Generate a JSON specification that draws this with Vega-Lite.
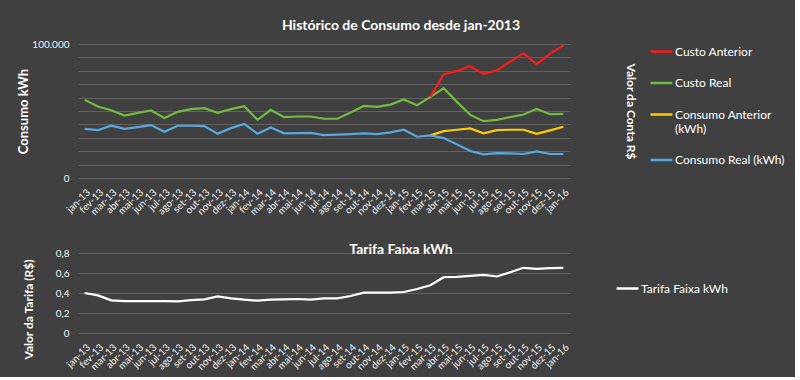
{
  "$schema": "https://vega.github.io/schema/vega-lite/v6.json",
  "background": "#404040",
  "padding": {"left": 17, "top": 19, "right": 10, "bottom": 5},
  "spacing": 26,
  "config": {
    "font": "Lato",
    "view": {"stroke": null},
    "title": {"color": "#ffffff", "font": "Lato", "fontWeight": "bold", "fontSize": 14},
    "axis": {
      "labelColor": "#f2f2f2",
      "labelFont": "Lato",
      "titleColor": "#ffffff",
      "titleFont": "Lato",
      "titleFontWeight": "bold",
      "gridColor": "#626262",
      "gridWidth": 1,
      "gridOpacity": 1,
      "domain": false,
      "ticks": false
    },
    "legend": {
      "labelColor": "#ffffff",
      "labelFont": "Lato",
      "labelFontSize": 12,
      "symbolType": "stroke",
      "symbolStrokeWidth": 2.5,
      "symbolSize": 480,
      "labelOffset": 1,
      "padding": 0
    }
  },
  "datasets": {
    "consumo": [
      {"mes": "jan-13", "serie": "Custo Real", "valor": 58300},
      {"mes": "fev-13", "serie": "Custo Real", "valor": 53300},
      {"mes": "mar-13", "serie": "Custo Real", "valor": 50600},
      {"mes": "abr-13", "serie": "Custo Real", "valor": 46600},
      {"mes": "mai-13", "serie": "Custo Real", "valor": 48600},
      {"mes": "jun-13", "serie": "Custo Real", "valor": 50400},
      {"mes": "jul-13", "serie": "Custo Real", "valor": 44700},
      {"mes": "ago-13", "serie": "Custo Real", "valor": 49400},
      {"mes": "set-13", "serie": "Custo Real", "valor": 51400},
      {"mes": "out-13", "serie": "Custo Real", "valor": 52100},
      {"mes": "nov-13", "serie": "Custo Real", "valor": 48600},
      {"mes": "dez-13", "serie": "Custo Real", "valor": 51400},
      {"mes": "jan-14", "serie": "Custo Real", "valor": 53600},
      {"mes": "fev-14", "serie": "Custo Real", "valor": 43400},
      {"mes": "mar-14", "serie": "Custo Real", "valor": 50900},
      {"mes": "abr-14", "serie": "Custo Real", "valor": 45400},
      {"mes": "mai-14", "serie": "Custo Real", "valor": 45900},
      {"mes": "jun-14", "serie": "Custo Real", "valor": 45900},
      {"mes": "jul-14", "serie": "Custo Real", "valor": 44200},
      {"mes": "ago-14", "serie": "Custo Real", "valor": 44200},
      {"mes": "set-14", "serie": "Custo Real", "valor": 48900},
      {"mes": "out-14", "serie": "Custo Real", "valor": 53800},
      {"mes": "nov-14", "serie": "Custo Real", "valor": 53100},
      {"mes": "dez-14", "serie": "Custo Real", "valor": 54800},
      {"mes": "jan-15", "serie": "Custo Real", "valor": 58600},
      {"mes": "fev-15", "serie": "Custo Real", "valor": 54300},
      {"mes": "mar-15", "serie": "Custo Real", "valor": 60500},
      {"mes": "abr-15", "serie": "Custo Real", "valor": 67000},
      {"mes": "mai-15", "serie": "Custo Real", "valor": 56800},
      {"mes": "jun-15", "serie": "Custo Real", "valor": 47100},
      {"mes": "jul-15", "serie": "Custo Real", "valor": 42400},
      {"mes": "ago-15", "serie": "Custo Real", "valor": 43400},
      {"mes": "set-15", "serie": "Custo Real", "valor": 45400},
      {"mes": "out-15", "serie": "Custo Real", "valor": 47400},
      {"mes": "nov-15", "serie": "Custo Real", "valor": 51600},
      {"mes": "dez-15", "serie": "Custo Real", "valor": 47600},
      {"mes": "jan-16", "serie": "Custo Real", "valor": 47900},
      {"mes": "mar-15", "serie": "Custo Anterior", "valor": 60500},
      {"mes": "abr-15", "serie": "Custo Anterior", "valor": 77200},
      {"mes": "mai-15", "serie": "Custo Anterior", "valor": 79900},
      {"mes": "jun-15", "serie": "Custo Anterior", "valor": 83400},
      {"mes": "jul-15", "serie": "Custo Anterior", "valor": 77700},
      {"mes": "ago-15", "serie": "Custo Anterior", "valor": 80400},
      {"mes": "set-15", "serie": "Custo Anterior", "valor": 86800},
      {"mes": "out-15", "serie": "Custo Anterior", "valor": 93100},
      {"mes": "nov-15", "serie": "Custo Anterior", "valor": 84900},
      {"mes": "dez-15", "serie": "Custo Anterior", "valor": 92800},
      {"mes": "jan-16", "serie": "Custo Anterior", "valor": 98800},
      {"mes": "mar-15", "serie": "Consumo Anterior (kWh)", "valor": 31800},
      {"mes": "abr-15", "serie": "Consumo Anterior (kWh)", "valor": 35000},
      {"mes": "mai-15", "serie": "Consumo Anterior (kWh)", "valor": 36000},
      {"mes": "jun-15", "serie": "Consumo Anterior (kWh)", "valor": 37000},
      {"mes": "jul-15", "serie": "Consumo Anterior (kWh)", "valor": 33300},
      {"mes": "ago-15", "serie": "Consumo Anterior (kWh)", "valor": 35700},
      {"mes": "set-15", "serie": "Consumo Anterior (kWh)", "valor": 36000},
      {"mes": "out-15", "serie": "Consumo Anterior (kWh)", "valor": 36000},
      {"mes": "nov-15", "serie": "Consumo Anterior (kWh)", "valor": 33000},
      {"mes": "dez-15", "serie": "Consumo Anterior (kWh)", "valor": 35500},
      {"mes": "jan-16", "serie": "Consumo Anterior (kWh)", "valor": 38200},
      {"mes": "jan-13", "serie": "Consumo Real (kWh)", "valor": 36700},
      {"mes": "fev-13", "serie": "Consumo Real (kWh)", "valor": 35700},
      {"mes": "mar-13", "serie": "Consumo Real (kWh)", "valor": 39000},
      {"mes": "abr-13", "serie": "Consumo Real (kWh)", "valor": 36700},
      {"mes": "mai-13", "serie": "Consumo Real (kWh)", "valor": 38000},
      {"mes": "jun-13", "serie": "Consumo Real (kWh)", "valor": 39500},
      {"mes": "jul-13", "serie": "Consumo Real (kWh)", "valor": 34500},
      {"mes": "ago-13", "serie": "Consumo Real (kWh)", "valor": 39000},
      {"mes": "set-13", "serie": "Consumo Real (kWh)", "valor": 39000},
      {"mes": "out-13", "serie": "Consumo Real (kWh)", "valor": 38700},
      {"mes": "nov-13", "serie": "Consumo Real (kWh)", "valor": 33000},
      {"mes": "dez-13", "serie": "Consumo Real (kWh)", "valor": 37200},
      {"mes": "jan-14", "serie": "Consumo Real (kWh)", "valor": 40400},
      {"mes": "fev-14", "serie": "Consumo Real (kWh)", "valor": 33000},
      {"mes": "mar-14", "serie": "Consumo Real (kWh)", "valor": 37700},
      {"mes": "abr-14", "serie": "Consumo Real (kWh)", "valor": 33300},
      {"mes": "mai-14", "serie": "Consumo Real (kWh)", "valor": 33500},
      {"mes": "jun-14", "serie": "Consumo Real (kWh)", "valor": 33700},
      {"mes": "jul-14", "serie": "Consumo Real (kWh)", "valor": 32000},
      {"mes": "ago-14", "serie": "Consumo Real (kWh)", "valor": 32300},
      {"mes": "set-14", "serie": "Consumo Real (kWh)", "valor": 32800},
      {"mes": "out-14", "serie": "Consumo Real (kWh)", "valor": 33300},
      {"mes": "nov-14", "serie": "Consumo Real (kWh)", "valor": 32800},
      {"mes": "dez-14", "serie": "Consumo Real (kWh)", "valor": 34000},
      {"mes": "jan-15", "serie": "Consumo Real (kWh)", "valor": 36000},
      {"mes": "fev-15", "serie": "Consumo Real (kWh)", "valor": 30800},
      {"mes": "mar-15", "serie": "Consumo Real (kWh)", "valor": 31800},
      {"mes": "abr-15", "serie": "Consumo Real (kWh)", "valor": 29800},
      {"mes": "mai-15", "serie": "Consumo Real (kWh)", "valor": 25100},
      {"mes": "jun-15", "serie": "Consumo Real (kWh)", "valor": 20100},
      {"mes": "jul-15", "serie": "Consumo Real (kWh)", "valor": 17600},
      {"mes": "ago-15", "serie": "Consumo Real (kWh)", "valor": 18600},
      {"mes": "set-15", "serie": "Consumo Real (kWh)", "valor": 18400},
      {"mes": "out-15", "serie": "Consumo Real (kWh)", "valor": 17900},
      {"mes": "nov-15", "serie": "Consumo Real (kWh)", "valor": 19900},
      {"mes": "dez-15", "serie": "Consumo Real (kWh)", "valor": 17900},
      {"mes": "jan-16", "serie": "Consumo Real (kWh)", "valor": 17900}
    ],
    "tarifa": [
      {"mes": "jan-13", "serie": "Tarifa Faixa kWh", "valor": 0.400},
      {"mes": "fev-13", "serie": "Tarifa Faixa kWh", "valor": 0.376},
      {"mes": "mar-13", "serie": "Tarifa Faixa kWh", "valor": 0.326},
      {"mes": "abr-13", "serie": "Tarifa Faixa kWh", "valor": 0.319},
      {"mes": "mai-13", "serie": "Tarifa Faixa kWh", "valor": 0.319},
      {"mes": "jun-13", "serie": "Tarifa Faixa kWh", "valor": 0.319},
      {"mes": "jul-13", "serie": "Tarifa Faixa kWh", "valor": 0.319},
      {"mes": "ago-13", "serie": "Tarifa Faixa kWh", "valor": 0.316},
      {"mes": "set-13", "serie": "Tarifa Faixa kWh", "valor": 0.329},
      {"mes": "out-13", "serie": "Tarifa Faixa kWh", "valor": 0.336},
      {"mes": "nov-13", "serie": "Tarifa Faixa kWh", "valor": 0.366},
      {"mes": "dez-13", "serie": "Tarifa Faixa kWh", "valor": 0.346},
      {"mes": "jan-14", "serie": "Tarifa Faixa kWh", "valor": 0.333},
      {"mes": "fev-14", "serie": "Tarifa Faixa kWh", "valor": 0.323},
      {"mes": "mar-14", "serie": "Tarifa Faixa kWh", "valor": 0.333},
      {"mes": "abr-14", "serie": "Tarifa Faixa kWh", "valor": 0.336},
      {"mes": "mai-14", "serie": "Tarifa Faixa kWh", "valor": 0.340},
      {"mes": "jun-14", "serie": "Tarifa Faixa kWh", "valor": 0.334},
      {"mes": "jul-14", "serie": "Tarifa Faixa kWh", "valor": 0.346},
      {"mes": "ago-14", "serie": "Tarifa Faixa kWh", "valor": 0.346},
      {"mes": "set-14", "serie": "Tarifa Faixa kWh", "valor": 0.370},
      {"mes": "out-14", "serie": "Tarifa Faixa kWh", "valor": 0.403},
      {"mes": "nov-14", "serie": "Tarifa Faixa kWh", "valor": 0.403},
      {"mes": "dez-14", "serie": "Tarifa Faixa kWh", "valor": 0.403},
      {"mes": "jan-15", "serie": "Tarifa Faixa kWh", "valor": 0.410},
      {"mes": "fev-15", "serie": "Tarifa Faixa kWh", "valor": 0.440},
      {"mes": "mar-15", "serie": "Tarifa Faixa kWh", "valor": 0.477},
      {"mes": "abr-15", "serie": "Tarifa Faixa kWh", "valor": 0.558},
      {"mes": "mai-15", "serie": "Tarifa Faixa kWh", "valor": 0.561},
      {"mes": "jun-15", "serie": "Tarifa Faixa kWh", "valor": 0.571},
      {"mes": "jul-15", "serie": "Tarifa Faixa kWh", "valor": 0.581},
      {"mes": "ago-15", "serie": "Tarifa Faixa kWh", "valor": 0.565},
      {"mes": "set-15", "serie": "Tarifa Faixa kWh", "valor": 0.608},
      {"mes": "out-15", "serie": "Tarifa Faixa kWh", "valor": 0.652},
      {"mes": "nov-15", "serie": "Tarifa Faixa kWh", "valor": 0.642},
      {"mes": "dez-15", "serie": "Tarifa Faixa kWh", "valor": 0.649},
      {"mes": "jan-16", "serie": "Tarifa Faixa kWh", "valor": 0.652}
    ]
  },
  "resolve": {"scale": {"color": "independent"}, "legend": {"color": "independent"}},
  "vconcat": [
    {
      "width": 492,
      "height": 134,
      "title": {"text": "Histórico de Consumo desde jan-2013", "anchor": "middle", "frame": "group", "dx": 77, "offset": 6},
      "data": {"name": "consumo"},
      "resolve": {"scale": {"y": "independent"}},
      "layer": [
        {
          "transform": [{"filter": "indexof(datum.serie, 'Consumo') == 0"}],
          "mark": {"type": "line", "strokeWidth": 2.2},
          "encoding": {
            "x": {
              "field": "mes", "type": "ordinal", "title": null,
              "scale": {"type": "point", "padding": 0.5, "domain": ["jan-13","fev-13","mar-13","abr-13","mai-13","jun-13","jul-13","ago-13","set-13","out-13","nov-13","dez-13","jan-14","fev-14","mar-14","abr-14","mai-14","jun-14","jul-14","ago-14","set-14","out-14","nov-14","dez-14","jan-15","fev-15","mar-15","abr-15","mai-15","jun-15","jul-15","ago-15","set-15","out-15","nov-15","dez-15","jan-16"]},
              "axis": {"labelAngle": -45, "labelFontSize": 10, "labelPadding": 9, "grid": false}
            },
            "y": {
              "field": "valor", "type": "quantitative",
              "scale": {"domain": [0, 100000]},
              "axis": {"title": "Consumo kWh", "titleFontSize": 13, "titlePadding": 1, "labelFontSize": 10, "labelPadding": 9, "grid": true,
                "values": [0, 10000, 20000, 30000, 40000, 50000, 60000, 70000, 80000, 90000, 100000],
                "labelExpr": "datum.value == 100000 ? '100.000' : (datum.value == 0 ? '0' : '')"}
            },
            "color": {
              "field": "serie", "type": "nominal",
              "scale": {"domain": ["Custo Anterior", "Custo Real", "Consumo Anterior (kWh)", "Consumo Real (kWh)"], "range": ["#ff1a1a", "#72bb3e", "#ffcc00", "#55a8e0"]},
              "legend": {"title": null, "orient": "none", "legendX": 571, "legendY": -5, "rowPadding": 12.5,
                "labelExpr": "datum.label == 'Consumo Anterior (kWh)' ? ['Consumo Anterior', '(kWh)'] : datum.label"}
            }
          }
        },
        {
          "transform": [{"filter": "indexof(datum.serie, 'Custo') == 0"}],
          "mark": {"type": "line", "strokeWidth": 2.2},
          "encoding": {
            "x": {
              "field": "mes", "type": "ordinal", "title": null,
              "scale": {"type": "point", "padding": 0.5, "domain": ["jan-13","fev-13","mar-13","abr-13","mai-13","jun-13","jul-13","ago-13","set-13","out-13","nov-13","dez-13","jan-14","fev-14","mar-14","abr-14","mai-14","jun-14","jul-14","ago-14","set-14","out-14","nov-14","dez-14","jan-15","fev-15","mar-15","abr-15","mai-15","jun-15","jul-15","ago-15","set-15","out-15","nov-15","dez-15","jan-16"]},
              "axis": {"labelAngle": -45, "labelFontSize": 10, "labelPadding": 9, "grid": false}
            },
            "y": {
              "field": "valor", "type": "quantitative",
              "scale": {"domain": [0, 100000]},
              "axis": {"orient": "right", "title": "Valor da Conta R$", "titleFontSize": 12, "labels": false, "grid": false, "titlePadding": 53}
            },
            "color": {"field": "serie", "type": "nominal"}
          }
        }
      ]
    },
    {
      "width": 492,
      "height": 80,
      "title": {"text": "Tarifa Faixa kWh", "anchor": "middle", "frame": "group", "dx": 77, "offset": -9},
      "data": {"name": "tarifa"},
      "mark": {"type": "line", "strokeWidth": 2.2},
      "encoding": {
        "x": {
          "field": "mes", "type": "ordinal", "title": null,
          "scale": {"type": "point", "padding": 0.5, "domain": ["jan-13","fev-13","mar-13","abr-13","mai-13","jun-13","jul-13","ago-13","set-13","out-13","nov-13","dez-13","jan-14","fev-14","mar-14","abr-14","mai-14","jun-14","jul-14","ago-14","set-14","out-14","nov-14","dez-14","jan-15","fev-15","mar-15","abr-15","mai-15","jun-15","jul-15","ago-15","set-15","out-15","nov-15","dez-15","jan-16"]},
          "axis": {"labelAngle": -45, "labelFontSize": 10, "labelPadding": 9, "grid": false}
        },
        "y": {
          "field": "valor", "type": "quantitative",
          "scale": {"domain": [0, 0.8]},
          "axis": {"title": "Valor da Tarifa (R$)", "titleFontSize": 12, "titlePadding": 20, "labelFontSize": 10, "labelPadding": 9, "grid": true,
            "values": [0, 0.2, 0.4, 0.6, 0.8], "titleY": 56,
            "labelExpr": "datum.value == 0 ? '0' : replace(format(datum.value, '.1f'), '.', ',')"}
        },
        "color": {
          "field": "serie", "type": "nominal",
          "scale": {"domain": ["Tarifa Faixa kWh"], "range": ["#ffffff"]},
          "legend": {"title": null, "orient": "none", "legendX": 537, "legendY": 23}
        }
      }
    }
  ]
}
